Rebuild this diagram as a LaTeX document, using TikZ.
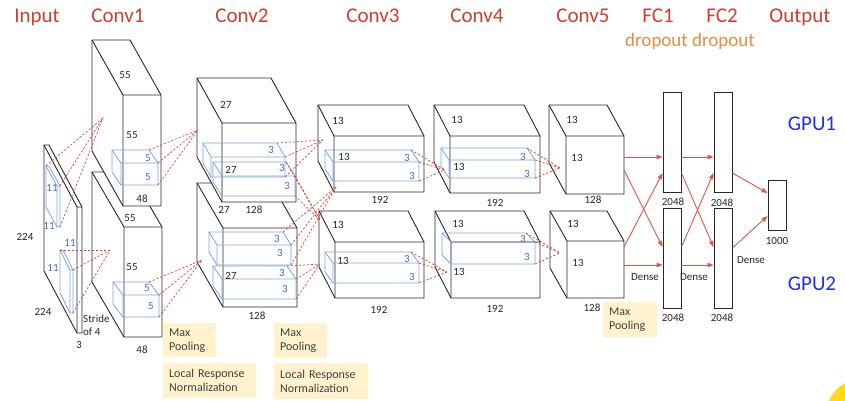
\documentclass[tikz,border=0pt]{standalone}
\usepackage{fontspec}
\setmainfont{Carlito}
\usetikzlibrary{arrows.meta,calc}
\definecolor{tred}{RGB}{205,62,45}
\definecolor{dorange}{RGB}{228,142,62}
\definecolor{gblue}{RGB}{30,50,215}
\definecolor{kline}{RGB}{120,165,225}
\definecolor{ktext}{RGB}{70,110,195}
\definecolor{dred}{RGB}{215,70,60}
\definecolor{ared}{RGB}{225,85,65}
\definecolor{yfill}{RGB}{255,242,204}
\definecolor{ybright}{RGB}{255,215,30}
\definecolor{edgec}{RGB}{40,40,40}
\newcommand\mycuboid[8]{%
 \coordinate (#2-ftl) at (#3,#4);
 \coordinate (#2-ftr) at (#5,#4);
 \coordinate (#2-fbr) at (#5,#6);
 \coordinate (#2-fbl) at (#3,#6);
 \coordinate (#2-btl) at ({#3-#7},{#4-#8});
 \coordinate (#2-btr) at ({#5-#7},{#4-#8});
 \coordinate (#2-bbl) at ({#3-#7},{#6-#8});
 \path[#1] (#2-btl) -- (#2-btr) -- (#2-ftr) -- (#2-fbr) -- (#2-fbl) -- (#2-bbl) -- cycle;
 \draw[#1,fill=none] (#2-btl) -- (#2-ftl) -- (#2-ftr) (#2-ftl) -- (#2-fbl);
}
\begin{document}
\begin{tikzpicture}[x=1pt,y=-1pt,
  layer/.style={draw=edgec,line width=0.9pt,fill=white,line join=round},
  kern/.style={draw=kline,line width=0.8pt},
  reddash/.style={draw=dred,line width=0.7pt,dash pattern=on 2.2pt off 1.8pt},
  farrow/.style={draw=ared,line width=0.9pt,-{Triangle[length=6pt,width=4.5pt]}},
  fcbox/.style={draw=edgec,line width=0.9pt,fill=white,minimum width=18pt,minimum height=100pt,inner sep=0pt},
  lbl/.style={font=\fontsize{11}{13}\selectfont,text=edgec,inner sep=0pt},
  klbl/.style={font=\fontsize{11}{12}\selectfont,text=ktext,inner sep=0pt},
  title/.style={font=\fontsize{21}{24}\selectfont,text=tred,anchor=base,inner sep=0pt},
  ybox/.style={fill=yfill,anchor=north west,align=left,text=black!75,font=\fontsize{12}{14}\selectfont,inner xsep=6pt,inner ysep=2pt}
]
\useasboundingbox (0,0) rectangle (845,400);
\begin{scope}
\clip (0,0) rectangle (845,400);
\fill[ybright] (862,415) circle[radius=36pt];
\end{scope}
% titles
\node[title] (tin) at (37,22) {Input};
\node[title] (tc1) at (118,22) {Conv1};
\node[title] (tc2) at (242,22) {Conv2};
\node[title] (tc3) at (373,22) {Conv3};
\node[title] (tc4) at (477,22) {Conv4};
\node[title] (tc5) at (583,22) {Conv5};
\node[title] (tf1) at (658,22) {FC1};
\node[title] (tf2) at (722,22) {FC2};
\node[title] (tout) at (800,22) {Output};
\node[title,text=dorange,font=\fontsize{19}{22}\selectfont] (drop) at (690,46) {dropout dropout};
\node[title,text=gblue] (g1) at (812,130) {GPU1};
\node[title,text=gblue] (g2) at (812,290) {GPU2};
% layers
\mycuboid{layer}{inp}{77}{207}{82}{333}{33}{62}
\mycuboid{layer}{c1b}{124}{227}{162}{337}{32}{55}
\mycuboid{layer}{c1a}{123}{95}{161}{206}{31}{55}
\mycuboid{layer}{c2b}{223}{228}{297}{307}{26}{45}
\mycuboid{layer}{c2a}{222}{123}{296}{202}{25}{45}
\mycuboid{layer}{c3a}{334}{136}{424}{192}{16}{31}
\mycuboid{layer}{c3b}{335}{242}{424}{298}{16}{31}
\mycuboid{layer}{c4a}{450}{136}{540}{193}{16}{31}
\mycuboid{layer}{c4b}{451}{242}{540}{298}{16}{31}
\mycuboid{layer}{c5a}{566}{136}{624}{194}{17}{31}
\mycuboid{layer}{c5b}{567}{241}{624}{298}{17}{30}
% kernels
\mycuboid{kern}{ki1}{57}{186}{60}{227}{11}{20}
\mycuboid{kern}{ki2}{70}{270}{73}{313}{10}{20}
\mycuboid{kern}{k1a}{121}{163}{158}{185}{9}{13}
\mycuboid{kern}{k1b}{123}{295}{159}{317}{10}{13}
\mycuboid{kern}{k2a}{211}{157}{285}{177}{8}{14}
\mycuboid{kern}{k2b}{222}{176}{295}{196}{9}{14}
\mycuboid{kern}{k2c}{217}{245}{291}{265}{8}{13}
\mycuboid{kern}{k2d}{222}{279}{296}{299}{9}{13}
\mycuboid{kern}{k3a}{333}{162}{419}{181}{8}{12}
\mycuboid{kern}{k3b}{333}{263}{419}{283}{8}{11}
\mycuboid{kern}{k4a}{449}{160}{535}{178}{8}{12}
\mycuboid{kern}{k4b}{451}{242}{535}{264}{9}{9}
% convergence points
\coordinate (p1a) at (103,118);
\coordinate (p1b) at (110,250);
\coordinate (p2a) at (198,130);
\coordinate (p2b) at (202,260);
\coordinate (p3a) at (323,140);
\coordinate (p3x) at (320,220);
\coordinate (p3y) at (336,187);
\coordinate (p3b) at (320,264);
\coordinate (p4a) at (445,170);
\coordinate (p4b) at (447,272);
\coordinate (p5a) at (560,168);
\coordinate (p5b) at (560,253);
% dashed connectors
\foreach \c in {btl,ftr,fbr} {\draw[reddash] (ki1-\c) -- (p1a); \draw[reddash] (ki2-\c) -- (p1b);}
\foreach \c in {btr,ftr,fbr} {
  \draw[reddash] (k1a-\c) -- (p2a); \draw[reddash] (k1b-\c) -- (p2b);
  \draw[reddash] (k2a-\c) -- (p3a); \draw[reddash] (k2b-\c) -- (p3x);
  \draw[reddash] (k2c-\c) -- (p3y); \draw[reddash] (k2d-\c) -- (p3b);
  \draw[reddash] (k3a-\c) -- (p4a); \draw[reddash] (k3b-\c) -- (p4b);
  \draw[reddash] (k4a-\c) -- (p5a); \draw[reddash] (k4b-\c) -- (p5b);
}
% FC boxes
\node[fcbox] (fc1a) at (672,142) {};
\node[fcbox] (fc1b) at (672,258) {};
\node[fcbox] (fc2a) at (723,142) {};
\node[fcbox] (fc2b) at (723,258) {};
\node[fcbox,minimum height=50pt] (out) at (777,205) {};
\draw[farrow] ($(c5a-ftr)+(0,21)$) -- ($(fc1a.west)+(0,15)$);
\draw[farrow] ($(c5a-ftr)+(0,34)$) -- ($(fc1b.west)+(0,-11)$);
\draw[farrow] ($(c5b-ftr)+(0,6)$) -- ($(fc1a.west)+(0,31)$);
\draw[farrow] ($(c5b-ftr)+(0,24)$) -- ($(fc1b.west)+(0,7)$);
\draw[farrow] ($(fc1a.east)+(0,15)$) -- ($(fc2a.west)+(0,15)$);
\draw[farrow] ($(fc1a.east)+(0,31)$) -- ($(fc2b.west)+(0,-11)$);
\draw[farrow] ($(fc1b.east)+(0,-11)$) -- ($(fc2a.west)+(0,31)$);
\draw[farrow] ($(fc1b.east)+(0,7)$) -- ($(fc2b.west)+(0,7)$);
\draw[farrow] ($(fc2a.east)+(0,31)$) -- ($(out.west)+(0,-12)$);
\draw[farrow] ($(fc2b.east)+(0,-10)$) -- ($(out.west)+(0,11)$);
% kernel labels
\node[klbl] (l1) at (52,188) {11};
\node[klbl] (l2) at (49,226) {11};
\node[klbl] (l3) at (70,243) {11};
\node[klbl] (l4) at (53,268) {11};
\node[klbl] (l5) at (148,158) {5};
\node[klbl] (l6) at (148,177) {5};
\node[klbl] (l7) at (147,288) {5};
\node[klbl] (l8) at (151,306) {5};
\node[klbl] (l9) at (271,150) {3};
\node[klbl] (l10) at (282,168) {3};
\node[klbl] (l11) at (287,186) {3};
\node[klbl] (l12) at (277,239) {3};
\node[klbl] (l13) at (280,253) {3};
\node[klbl] (l14) at (282,273) {3};
\node[klbl] (l15) at (285,289) {3};
\node[klbl] (l16) at (407,158) {3};
\node[klbl] (l17) at (412,176) {3};
\node[klbl] (l18) at (407,259) {3};
\node[klbl] (l19) at (412,277) {3};
\node[klbl] (l20) at (523,157) {3};
\node[klbl] (l21) at (527,174) {3};
\node[klbl] (l22) at (523,239) {3};
\node[klbl] (l23) at (527,257) {3};
% size labels
\node[lbl] (a1) at (25,237) {224};
\node[lbl] (a2) at (43,312) {224};
\node[lbl] (a3) at (79,345) {3};
\node[lbl,align=left,anchor=west] (a4) at (83,325) {Stride\\of 4};
\node[lbl] (b1) at (125,75) {55};
\node[lbl] (b2) at (132,135) {55};
\node[lbl] (b3) at (142,199) {48};
\node[lbl] (b4) at (130,218) {55};
\node[lbl] (b5) at (132,267) {55};
\node[lbl] (b6) at (142,350) {48};
\node[lbl] (c1) at (226,105) {27};
\node[lbl] (c2) at (231,170) {27};
\node[lbl] (c3) at (224,210) {27};
\node[lbl] (c4) at (254,210) {128};
\node[lbl] (c5) at (231,276) {27};
\node[lbl] (c6) at (257,316) {128};
\node[lbl] (d1) at (338,121) {13};
\node[lbl] (d2) at (344,157) {13};
\node[lbl] (d3) at (380,200) {192};
\node[lbl] (d4) at (338,225) {13};
\node[lbl] (d5) at (343,261) {13};
\node[lbl] (d6) at (379,310) {192};
\node[lbl] (e1) at (457,120) {13};
\node[lbl] (e2) at (459,167) {13};
\node[lbl] (e3) at (495,203) {192};
\node[lbl] (e4) at (458,224) {13};
\node[lbl] (e5) at (459,272) {13};
\node[lbl] (e6) at (495,309) {192};
\node[lbl] (f1) at (572,120) {13};
\node[lbl] (f2) at (577,158) {13};
\node[lbl] (f3) at (593,200) {128};
\node[lbl] (f4) at (573,224) {13};
\node[lbl] (f5) at (578,263) {13};
\node[lbl] (f6) at (592,308) {128};
\node[lbl] (h1) at (673,202) {2048};
\node[lbl] (h2) at (673,318) {2048};
\node[lbl] (h3) at (722,203) {2048};
\node[lbl] (h4) at (722,318) {2048};
\node[lbl] (h5) at (777,241) {1000};
\node[lbl] (h6) at (645,277) {Dense};
\node[lbl] (h7) at (694,277) {Dense};
\node[lbl] (h8) at (751,260) {Dense};
% yellow boxes
\node[ybox,text width=41pt,minimum height=34pt] (mp1) at (163,323) {Max\\Pooling};
\node[ybox,text width=81pt,minimum height=35pt] (lrn1) at (163,363) {Local Response\\Normalization};
\node[ybox,text width=41pt,minimum height=35pt] (mp2) at (274,323) {Max\\Pooling};
\node[ybox,text width=82pt,minimum height=36pt] (lrn2) at (274,363) {Local Response\\Normalization};
\node[ybox,text width=42pt,minimum height=35pt] (mp3) at (603,302) {Max\\Pooling};
\end{tikzpicture}
\end{document}
